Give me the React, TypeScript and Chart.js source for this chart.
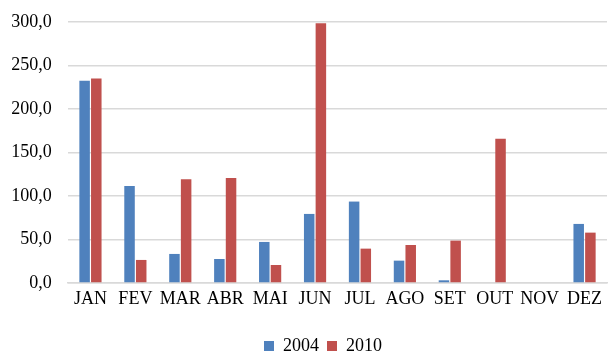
import React, { useEffect, useRef } from "react";
import { Chart, registerables } from "chart.js";

Chart.register(...registerables);

const categories = ["JAN", "FEV", "MAR", "ABR", "MAI", "JUN", "JUL", "AGO", "SET", "OUT", "NOV", "DEZ"];
const series2004 = [232.4, 111.6, 33.4, 27.6, 47.2, 79.4, 93.6, 25.7, 3.1, 0, 0, 67.9];
const series2010 = [235.1, 26.5, 119.3, 120.8, 20.7, 298.5, 39.5, 43.7, 48.7, 165.7, 0, 57.9];
const seriesNames = ["2004", "2010"];

const FONT = "'Liberation Serif', 'Times New Roman', serif";

const shiftLegend = {
  id: "shiftLegend",
  afterLayout(chart: any) {
    const lg = chart.legend;
    if (lg) {
      lg.left += 22;
      lg.right += 22;
      lg.top += 22.4;
      lg.bottom += 22.4;
    }
  },
};

export default function App() {
  const ref = useRef<HTMLCanvasElement | null>(null);
  useEffect(() => {
    if (!ref.current) return;
    const chart: any = new Chart(ref.current, {
      type: "bar",
      data: {
        labels: categories,
        datasets: [
          { label: seriesNames[0], data: series2004, backgroundColor: "#4F81BD", categoryPercentage: 0.52, barPercentage: 0.9 },
          { label: seriesNames[1], data: series2010, backgroundColor: "#C0504D", categoryPercentage: 0.52, barPercentage: 0.9 },
        ],
      },
      options: {
        animation: false,
        responsive: false,
        maintainAspectRatio: false,
        layout: { padding: { top: 22, right: 2, left: -5, bottom: 11.4 } },
        plugins: {
          tooltip: { enabled: false },
          legend: {
            position: "bottom",
            labels: {
              font: { family: FONT, size: 18 },
              color: "#000",
              boxWidth: 10,
              boxHeight: 10,
              padding: 8,
              useBorderRadius: false,
            },
          },
        },
        scales: {
          x: {
            grid: { display: false },
            border: { display: true, color: "#d9d9d9", width: 1.5 },
            ticks: { font: { family: FONT, size: 18 }, color: "#000", padding: -3, maxRotation: 0 },
          },
          y: {
            min: 0,
            max: 300,
            afterFit: (s: any) => {
              s.paddingTop = 0;
              s.paddingBottom = 0;
            },
            ticks: {
              stepSize: 50,
              font: { family: FONT, size: 18 },
              color: "#000",
              padding: 16.25,
              callback: (v: any) => Number(v).toFixed(1).replace(".", ","),
            },
            grid: { color: "#d9d9d9", lineWidth: 1.5, drawTicks: false },
            border: { display: false },
          },
        },
      },
      plugins: [shiftLegend],
    });
    return () => chart.destroy();
  }, []);
  return (
    <div style={{ position: "fixed", left: 0, top: 0, width: 609, height: 354, background: "#fff" }}>
      <canvas ref={ref} width={609} height={354} style={{ width: 609, height: 354 }} />
    </div>
  );
}
